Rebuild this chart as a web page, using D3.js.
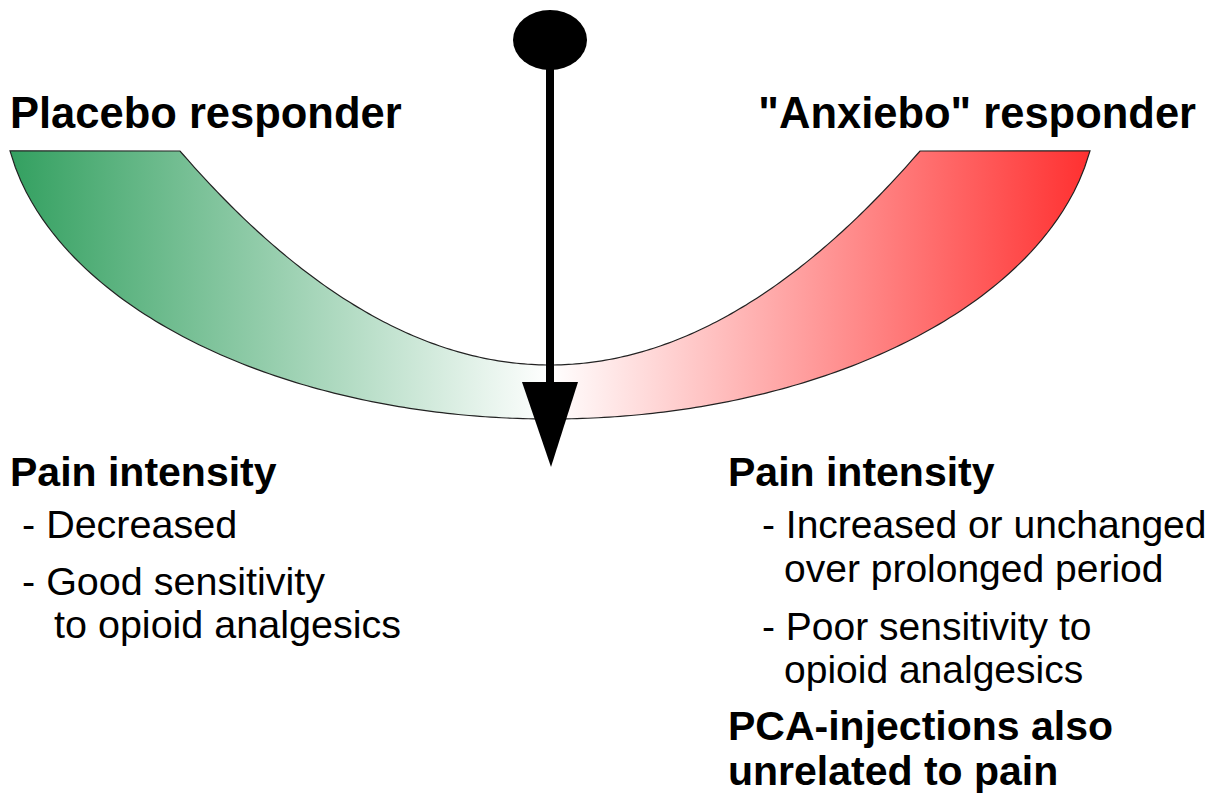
<!DOCTYPE html>
<html>
<head>
<meta charset="utf-8">
<script src="https://cdn.jsdelivr.net/npm/d3@7"></script>
<style>
  body { margin: 0; background: #fff; }
  text { font-family: "Liberation Sans", Arial, sans-serif; fill: #000; }
</style>
</head>
<body>
<div id="chart"></div>
<script>
// texts of the figure
let headings = ["Placebo responder", "\"Anxiebo\" responder"];
let leftLines = ["Pain intensity", "- Decreased", "- Good sensitivity", "to opioid analgesics"];
let rightLines = ["Pain intensity", "- Increased or unchanged", "over prolonged period",
                  "- Poor sensitivity to", "opioid analgesics", "PCA-injections also", "unrelated to pain"];
let gradientStops = [0, 0.5, 1];
let gradientColors = ["#33a060", "#ffffff", "#ff3030"];

let width = 1208;
let height = 800;

let svg = d3.select("#chart").append("svg").attr("width", width).attr("height", height);

// band geometry
let cx = 550, topY = 151;
let outer = {x0: 10, x1: 1090, cy: 100, rx: 547, ry: 319};
let inner = {x0: 180, x1: 920, bottom: 365};

let defs = svg.append("defs");
let grad = defs.append("linearGradient").attr("id", "band")
    .attr("gradientUnits", "userSpaceOnUse")
    .attr("x1", outer.x0).attr("x2", outer.x1).attr("y1", 0).attr("y2", 0);
grad.selectAll("stop").data(gradientStops).enter().append("stop")
    .attr("offset", d => d)
    .attr("stop-color", (d, i) => gradientColors[i]);

// outer edge: elliptical, inner edge: parabola
let outerPts = d3.range(0, 201).map(function(i) {
    let x = outer.x0 + (outer.x1 - outer.x0) * i / 200;
    let dx = Math.min(1, Math.abs(x - cx) / outer.rx);
    return [x, outer.cy + outer.ry * Math.sqrt(1 - dx * dx)];
});
let k = (inner.bottom - topY) / Math.pow((inner.x1 - inner.x0) / 2, 2);
let innerPts = d3.range(0, 201).map(function(i) {
    let x = inner.x1 - (inner.x1 - inner.x0) * i / 200;
    let mid = (inner.x0 + inner.x1) / 2;
    return [x, inner.bottom - k * (x - mid) * (x - mid)];
});
let line = d3.line();
svg.append("path")
    .attr("d", line(outerPts.concat(innerPts)) + "Z")
    .attr("fill", "url(#band)")
    .attr("stroke", "#222")
    .attr("stroke-width", 1.2);

// pendulum
svg.append("line")
    .attr("x1", cx).attr("x2", cx).attr("y1", 50).attr("y2", 390)
    .attr("stroke", "#000").attr("stroke-width", 8);
svg.append("ellipse")
    .attr("cx", cx).attr("cy", 40).attr("rx", 37).attr("ry", 30)
    .attr("fill", "#000");
svg.append("path")
    .attr("d", d3.line()([[cx - 28, 382], [cx + 28, 382], [cx + 1, 467]]) + "Z")
    .attr("fill", "#000");

// headings
svg.append("text").attr("x", 10).attr("y", 128)
    .style("font-size", "43.5px").style("font-weight", "bold").text(headings[0]);
svg.append("text").attr("x", 1196).attr("y", 128).attr("text-anchor", "end")
    .style("font-size", "43.5px").style("font-weight", "bold").text(headings[1]);

// left block
let leftPos = [[10, 486, true], [22, 538, false], [22, 595, false], [54, 638, false]];
svg.selectAll(".left").data(leftLines).enter().append("text")
    .attr("class", "left")
    .attr("x", (d, i) => leftPos[i][0])
    .attr("y", (d, i) => leftPos[i][1])
    .style("font-size", (d, i) => leftPos[i][2] ? "41px" : "39.5px")
    .style("font-weight", (d, i) => leftPos[i][2] ? "bold" : "normal")
    .text(d => d);

// right block
let rightPos = [[728, 486, true], [762, 538, false], [784, 582, false], [762, 640, false],
                [784, 683, false], [728, 740, true], [728, 785, true]];
svg.selectAll(".right").data(rightLines).enter().append("text")
    .attr("class", "right")
    .attr("x", (d, i) => rightPos[i][0])
    .attr("y", (d, i) => rightPos[i][1])
    .style("font-size", (d, i) => rightPos[i][2] ? "41px" : "39px")
    .style("font-weight", (d, i) => rightPos[i][2] ? "bold" : "normal")
    .text(d => d);
</script>
</body>
</html>
